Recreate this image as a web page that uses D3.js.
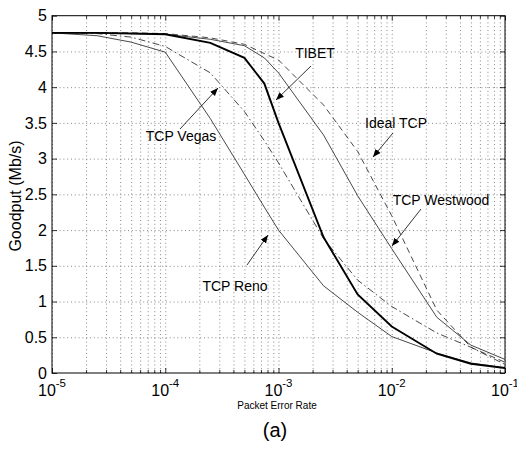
<!DOCTYPE html>
<html>
<head>
<meta charset="utf-8">
<script src="https://cdn.jsdelivr.net/npm/d3@7"></script>
<style>
  body { margin: 0; background: #fff; }
  svg { font-family: "Liberation Sans", Arial, Helvetica, sans-serif; }
  .grid line { stroke: #555; stroke-width: 0.7; stroke-dasharray: 1,2.8; }
  .grid path { display: none; }
  .tk path { display: none; }
  .tk line { stroke: #000; stroke-width: 0.8; }
</style>
</head>
<body>
<div id="plot"></div>
<script>
// packet error rates where the curves were sampled
const per = [1e-5, 2.5e-5, 5e-5, 1e-4, 2.5e-4, 5e-4, 7.5e-4, 1e-3, 2.5e-3, 5e-3, 1e-2, 2.5e-2, 5e-2, 1e-1];

// goodput (Mb/s)
const reno     = [4.76, 4.72, 4.63, 4.49, 3.56, 2.78, 2.32, 2.0, 1.22, 0.85, 0.51, 0.28, 0.14, 0.07];
const vegas    = [4.76, 4.75, 4.70, 4.57, 4.20, 3.66, 3.25, 2.94, 1.88, 1.30, 0.93, 0.56, 0.36, 0.12];
const tibet    = [4.76, 4.76, 4.75, 4.74, 4.62, 4.41, 4.05, 3.50, 1.90, 1.10, 0.65, 0.27, 0.13, 0.07];
const westwood = [4.76, 4.76, 4.75, 4.74, 4.67, 4.58, 4.41, 4.20, 3.33, 2.48, 1.74, 0.78, 0.39, 0.19];
const ideal    = [4.76, 4.76, 4.76, 4.75, 4.69, 4.60, 4.47, 4.38, 3.75, 3.10, 2.20, 0.88, 0.36, 0.15];

const xMajor = [1e-5, 1e-4, 1e-3, 1e-2, 1e-1];
const xExp = ["-5", "-4", "-3", "-2", "-1"];
const yTicks = [0, 0.5, 1, 1.5, 2, 2.5, 3, 3.5, 4, 4.5, 5];

const W = 517, H = 459;
const pL = 52, pR = 505, pT = 15.7, pB = 373;

const svg = d3.select("#plot").append("svg")
    .attr("width", W)
    .attr("height", H);

const x = d3.scaleLog().domain([1e-5, 1e-1]).range([pL, pR]);
const y = d3.scaleLinear().domain([0, 5]).range([pB, pT]);

// minor decade ticks 2..9
const xMinor = [];
[1e-5, 1e-4, 1e-3, 1e-2].forEach(d => {
    for (let k = 2; k <= 9; k++) xMinor.push(d * k);
});

// dotted grid
svg.append("g").attr("class", "grid")
    .attr("transform", `translate(0,${pB})`)
    .call(d3.axisBottom(x).tickValues(xMajor.concat(xMinor)).tickSize(-(pB - pT)).tickFormat(""));
svg.append("g").attr("class", "grid")
    .attr("transform", `translate(${pL},0)`)
    .call(d3.axisLeft(y).tickValues(yTicks.slice(1, -1)).tickSize(-(pR - pL)).tickFormat(""));

// inward ticks on all four sides
svg.append("g").attr("class", "tk")
    .attr("transform", `translate(0,${pB})`)
    .call(d3.axisBottom(x).tickValues(xMajor).tickSize(-5).tickFormat(""));
svg.append("g").attr("class", "tk")
    .attr("transform", `translate(0,${pB})`)
    .call(d3.axisBottom(x).tickValues(xMinor).tickSize(-3).tickFormat(""));
svg.append("g").attr("class", "tk")
    .attr("transform", `translate(0,${pT})`)
    .call(d3.axisTop(x).tickValues(xMajor).tickSize(-5).tickFormat(""));
svg.append("g").attr("class", "tk")
    .attr("transform", `translate(0,${pT})`)
    .call(d3.axisTop(x).tickValues(xMinor).tickSize(-3).tickFormat(""));
svg.append("g").attr("class", "tk")
    .attr("transform", `translate(${pR},0)`)
    .call(d3.axisRight(y).tickValues(yTicks).tickSize(-5).tickFormat(""));

const yAx = svg.append("g").attr("class", "tk")
    .attr("transform", `translate(${pL},0)`)
    .call(d3.axisLeft(y).tickValues(yTicks).tickSize(-5).tickPadding(5).tickFormat(d => String(d)));
yAx.selectAll("text")
    .attr("font-size", 16)
    .attr("font-family", "Liberation Sans, Arial, sans-serif")
    .attr("fill", "#000");

// x tick labels 10^k
const xl = svg.append("g");
xMajor.forEach((d, i) => {
    const t = xl.append("text")
        .attr("x", x(d))
        .attr("y", 396)
        .attr("text-anchor", "middle")
        .attr("font-size", 16);
    t.append("tspan").text("10");
    t.append("tspan").attr("dy", -9).attr("font-size", 11.5).text(xExp[i]);
});

// box
svg.append("rect")
    .attr("x", pL).attr("y", pT)
    .attr("width", pR - pL).attr("height", pB - pT)
    .attr("fill", "none").attr("stroke", "#000").attr("stroke-width", 1);

// curves
const line = d3.line().x((d, i) => x(per[i])).y(d => y(d));
const series = [
    {v: reno, w: 0.9, c: "#333", dash: null},
    {v: vegas, w: 0.9, c: "#333", dash: "7,3,1.5,3"},
    {v: westwood, w: 0.9, c: "#333", dash: null},
    {v: ideal, w: 0.9, c: "#333", dash: "6,4"},
    {v: tibet, w: 1.9, c: "#000", dash: null}
];
series.forEach(s => {
    svg.append("path")
        .datum(s.v)
        .attr("fill", "none")
        .attr("stroke", s.c)
        .attr("stroke-width", s.w)
        .attr("stroke-dasharray", s.dash)
        .attr("d", line);
});

// annotations
svg.append("defs").append("marker")
    .attr("id", "ah")
    .attr("viewBox", "0 0 10 10")
    .attr("refX", 10).attr("refY", 5)
    .attr("markerWidth", 8).attr("markerHeight", 8)
    .attr("markerUnits", "userSpaceOnUse")
    .attr("orient", "auto")
    .append("path").attr("d", "M0,1 L10,5 L0,9 Z").attr("fill", "#000");

const notes = [
    {t: "TIBET", tx: 315, ty: 58, x1: 311, y1: 66, x2: 276, y2: 100},
    {t: "Ideal TCP", tx: 396, ty: 128, x1: 393, y1: 133, x2: 373, y2: 157},
    {t: "TCP Westwood", tx: 441, ty: 205, x1: 421, y1: 209, x2: 392, y2: 246},
    {t: "TCP Vegas", tx: 181, ty: 141, x1: 180, y1: 129, x2: 218, y2: 88},
    {t: "TCP Reno", tx: 235, ty: 291, x1: 247, y1: 265, x2: 268, y2: 235}
];
notes.forEach(n => {
    svg.append("text")
        .attr("x", n.tx).attr("y", n.ty)
        .attr("text-anchor", "middle")
        .attr("font-size", 14)
        .text(n.t);
    svg.append("line")
        .attr("x1", n.x1).attr("y1", n.y1)
        .attr("x2", n.x2).attr("y2", n.y2)
        .attr("stroke", "#000").attr("stroke-width", 0.8)
        .attr("marker-end", "url(#ah)");
});

// axis titles
svg.append("text")
    .attr("x", 277).attr("y", 409)
    .attr("text-anchor", "middle")
    .attr("font-size", 10)
    .text("Packet Error Rate");
svg.append("text")
    .attr("transform", "translate(21,196) rotate(-90)")
    .attr("text-anchor", "middle")
    .attr("font-size", 16)
    .text("Goodput (Mb/s)");
svg.append("text")
    .attr("x", 275).attr("y", 437)
    .attr("text-anchor", "middle")
    .attr("font-size", 20)
    .text("(a)");
</script>
</body>
</html>
